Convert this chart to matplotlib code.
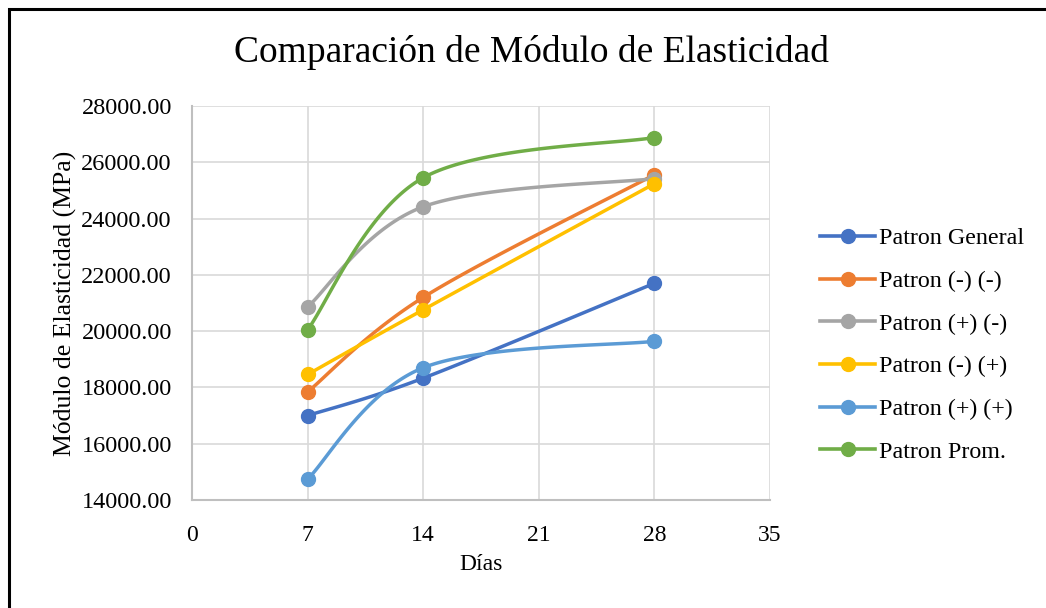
import numpy as np
import matplotlib.pyplot as plt
from matplotlib.patches import Rectangle

plt.rcParams['font.family'] = ['Liberation Serif', 'DejaVu Serif']

dias = [7, 14, 28]
series = [
    "Patron General",
    "Patron (-) (-)",
    "Patron (+) (-)",
    "Patron (-) (+)",
    "Patron (+) (+)",
    "Patron Prom.",
]
patron_general = [17000, 18330, 21700]
patron_mm = [17840, 21200, 25560]
patron_pm = [20860, 24420, 25420]
patron_mp = [18460, 20760, 25240]
patron_pp = [14740, 18700, 19640]
patron_prom = [20050, 25450, 26880]
valores = [patron_general, patron_mm, patron_pm, patron_mp, patron_pp, patron_prom]
colores = ["#4472C4", "#ED7D31", "#A5A5A5", "#FFC000", "#5B9BD5", "#70AD47"]

x_ticks = [0, 7, 14, 21, 28, 35]
y_ticks = list(range(14000, 28001, 2000))


def suavizar(ax, xs, ys, n=60):
    # curva tipo Catmull-Rom (bezier cubico) calculada en pixeles
    pts = ax.transData.transform(np.column_stack([xs, ys]))
    out = [pts[0]]
    for i in range(len(pts) - 1):
        p0 = pts[i - 1] if i > 0 else pts[i]
        p1 = pts[i]
        p2 = pts[i + 1]
        p3 = pts[i + 2] if i + 2 < len(pts) else pts[i + 1]
        c1 = p1 + (p2 - p0) / 6
        c2 = p2 - (p3 - p1) / 6
        t = np.linspace(0, 1, n)[1:, None]
        seg = ((1 - t) ** 3) * p1 + 3 * ((1 - t) ** 2) * t * c1 \
            + 3 * (1 - t) * t ** 2 * c2 + t ** 3 * p2
        out.extend(seg)
    out = np.array(out)
    return ax.transData.inverted().transform(out)


fig = plt.figure(figsize=(10.46, 6.08), dpi=100)
ax = fig.add_axes([192 / 1046, 1 - 500 / 608, 578 / 1046, 394 / 608])
ax.set_xlim(0, 35)
ax.set_ylim(14000, 28000)

for nombre, vals, col in zip(series, valores, colores):
    curva = suavizar(ax, dias, vals)
    ax.plot(curva[:, 0], curva[:, 1], color=col, lw=2.5, solid_capstyle='round', zorder=3)
    ax.plot(dias, vals, 'o', color=col, ms=10, zorder=4)
    # entrada de leyenda con linea y marcador
    ax.plot([], [], '-o', color=col, lw=2.6, ms=10, label=nombre)

ax.set_xticks(x_ticks)
ax.set_yticks(y_ticks)
ax.set_yticklabels([f"{v:.2f}" for v in y_ticks])
ax.tick_params(axis='x', length=0, labelsize=17, pad=18)
ax.tick_params(axis='y', length=0, labelsize=17.5, pad=14.5)
ax.grid(True, color="#D9D9D9", lw=1.2)
ax.set_axisbelow(True)
for s in ["top", "right"]:
    ax.spines[s].set_visible(False)
for s in ["left", "bottom"]:
    ax.spines[s].set_color("#BFBFBF")
    ax.spines[s].set_linewidth(1.5)

ax.set_xlabel("Días", fontsize=17, labelpad=6)
ax.set_ylabel("Módulo de Elasticidad (MPa)", fontsize=18.5, labelpad=3)
fig.text(531 / 1046, 1 - 53 / 608, "Comparación de Módulo de Elasticidad",
         fontsize=27, ha="center", va="center")

ax.legend(loc="center left", bbox_to_anchor=(1.07, 0.393), frameon=False,
          fontsize=17.3, handlelength=2.3, handletextpad=0.15, labelspacing=0.87,
          borderaxespad=0)

# marco negro del grafico
fig.patches.append(Rectangle((9 / 1046, -0.1), 1.2, 1 - 9 / 608 + 0.1,
                             transform=fig.transFigure, fill=False,
                             edgecolor="black", lw=2.2))

fig.savefig("out.png", dpi=100)
